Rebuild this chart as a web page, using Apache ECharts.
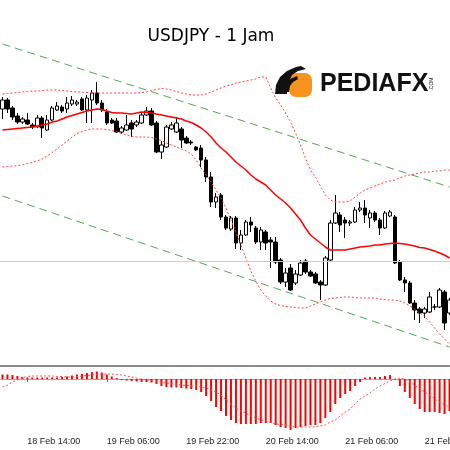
<!DOCTYPE html>
<html><head><meta charset="utf-8">
<script src="https://cdn.jsdelivr.net/npm/echarts@6/dist/echarts.min.js"></script>
<style>html,body{margin:0;padding:0;background:#fff}#c{width:450px;height:450px}</style>
</head><body><div id="c"></div>
<script>
// hourly categories from 18 Feb 09:00
const categories = [];
for (let i = 0; i < 91; i++) {
  const hr = 9 + i, day = 18 + Math.floor(hr / 24), h = hr % 24;
  categories.push(day + ' Feb ' + (h < 10 ? '0' + h : h) + ':00');
}
const tickLabels = ['18 Feb 14:00','19 Feb 06:00','19 Feb 22:00','20 Feb 14:00','21 Feb 06:00','21 Feb 22:00'];

const open = [109.91,110.00,109.92,109.84,109.78,109.80,109.75,109.73,109.82,109.70,
109.80,109.90,109.93,109.91,109.96,109.96,110.01,109.90,110.00,110.07,
109.97,109.88,109.80,109.79,109.68,109.70,109.77,109.75,109.77,109.85,
109.89,109.77,109.48,109.53,109.71,109.68,109.71,109.62,109.58,109.53,
109.52,109.40,109.23,108.98,109.05,108.83,108.71,108.82,108.57,108.65,
108.78,108.72,108.58,108.68,108.60,108.58,108.40,108.18,108.32,108.17,
108.25,108.39,108.28,108.26,108.18,108.15,108.40,108.77,108.85,108.80,
108.77,108.78,108.90,108.92,108.82,108.87,108.80,108.72,108.84,108.83,
108.38,108.20,108.17,107.97,107.91,107.87,107.88,107.93,107.93,108.08,
107.87];
const close = [110.00,109.91,109.83,109.78,109.81,109.76,109.73,109.82,109.72,109.80,
109.92,109.94,109.89,109.97,110.00,109.98,109.90,110.02,110.07,109.97,
109.90,109.77,109.77,109.68,109.72,109.75,109.71,109.78,109.85,109.89,
109.75,109.48,109.55,109.73,109.75,109.77,109.60,109.57,109.57,109.50,
109.40,109.23,108.98,109.03,108.83,108.72,108.82,108.57,108.65,108.78,
108.75,108.58,108.70,108.57,108.58,108.38,108.18,108.27,108.10,108.26,
108.37,108.28,108.24,108.17,108.15,108.42,108.77,108.87,108.75,108.77,
108.78,108.90,108.92,108.85,108.87,108.80,108.72,108.87,108.88,108.37,
108.20,108.17,107.97,107.90,107.87,107.91,108.03,107.93,108.10,107.77,
108.00];
const low = [109.81,109.87,109.80,109.76,109.76,109.75,109.71,109.72,109.62,109.69,
109.79,109.89,109.87,109.87,109.94,109.94,109.89,109.77,109.77,109.95,
109.88,109.75,109.76,109.67,109.66,109.69,109.63,109.73,109.76,109.84,
109.74,109.47,109.41,109.52,109.70,109.67,109.52,109.56,109.55,109.49,
109.33,109.18,108.93,108.92,108.80,108.70,108.69,108.51,108.50,108.64,
108.68,108.56,108.50,108.50,108.32,108.36,108.16,108.13,108.09,108.15,
108.24,108.26,108.23,108.16,108.00,108.14,108.39,108.76,108.68,108.62,
108.74,108.77,108.88,108.77,108.72,108.78,108.65,108.71,108.83,108.36,
108.19,108.08,107.96,107.80,107.77,107.82,107.87,107.90,107.92,107.70,
107.85];
const high = [110.03,110.02,109.94,109.87,109.83,109.87,109.77,109.85,109.84,109.85,
109.94,109.98,109.95,110.03,110.04,110.00,110.03,110.05,110.10,110.18,
110.00,109.91,109.82,109.82,109.74,109.85,109.80,109.80,109.87,109.93,
109.92,109.79,109.59,109.75,109.78,109.83,109.73,109.64,109.60,109.54,
109.55,109.43,109.28,109.07,109.07,108.85,108.84,108.84,108.70,108.80,
108.83,108.74,108.73,108.70,108.63,108.63,108.42,108.32,108.36,108.30,
108.40,108.41,108.30,108.28,108.20,108.44,108.80,109.05,108.88,108.83,
108.80,108.93,108.98,109.00,108.90,108.89,108.82,108.89,108.90,108.85,
108.40,108.23,108.19,108.00,107.93,107.93,108.08,107.96,108.12,108.10,
108.02];

const bbMid = [109.70,109.705,109.71,109.715,109.72,109.725,109.73,109.74,109.75,109.76,
109.78,109.79,109.81,109.83,109.845,109.86,109.875,109.89,109.90,109.91,
109.905,109.89,109.875,109.87,109.87,109.865,109.86,109.87,109.88,109.875,
109.87,109.86,109.85,109.84,109.83,109.82,109.81,109.79,109.775,109.75,
109.72,109.68,109.63,109.57,109.52,109.48,109.43,109.38,109.34,109.30,
109.25,109.21,109.18,109.15,109.10,109.05,109.01,108.97,108.92,108.86,
108.80,108.72,108.65,108.61,108.57,108.53,108.50,108.50,108.50,108.50,
108.51,108.52,108.53,108.535,108.54,108.55,108.55,108.56,108.565,108.57,
108.565,108.56,108.55,108.54,108.525,108.52,108.505,108.49,108.47,108.45,
108.42];
const bbUpper = [110.06,110.065,110.07,110.075,110.08,110.085,110.09,110.09,110.095,110.10,
110.10,110.10,110.095,110.09,110.085,110.08,110.08,110.075,110.07,110.07,
110.07,110.07,110.07,110.07,110.07,110.07,110.07,110.07,110.075,110.08,
110.095,110.105,110.115,110.11,110.10,110.085,110.07,110.06,110.05,110.05,
110.05,110.06,110.08,110.10,110.12,110.14,110.15,110.17,110.18,110.19,
110.20,110.21,110.23,110.23,110.12,110.02,109.95,109.87,109.78,109.67,
109.55,109.42,109.30,109.23,109.14,109.05,109.00,108.98,108.98,108.98,
108.99,109.03,109.07,109.10,109.12,109.14,109.16,109.18,109.19,109.20,
109.22,109.24,109.25,109.26,109.27,109.28,109.28,109.29,109.29,109.30,
109.30];
const bbLower = [109.33,109.335,109.34,109.345,109.35,109.365,109.375,109.39,109.41,109.44,
109.475,109.51,109.55,109.59,109.63,109.665,109.685,109.70,109.71,109.71,
109.71,109.705,109.695,109.68,109.665,109.65,109.635,109.63,109.63,109.63,
109.625,109.61,109.595,109.57,109.55,109.53,109.51,109.49,109.46,109.40,
109.32,109.25,109.18,109.10,109.02,108.92,108.80,108.68,108.55,108.42,
108.29,108.19,108.10,108.04,107.99,107.96,107.945,107.935,107.93,107.925,
107.92,107.92,107.94,107.96,107.98,108.00,108.015,108.02,108.025,108.03,
108.03,108.025,108.02,108.02,108.02,108.02,108.01,108.005,108.00,108.00,
107.99,107.97,107.94,107.91,107.87,107.84,107.78,107.72,107.66,107.61,
107.56];

const macdHist = [0.045,0.045,0.04,0.03,0.02,0.015,0.015,0.015,0.015,0.015,
0.015,0.015,0.02,0.025,0.035,0.045,0.05,0.06,0.07,0.075,
0.065,0.045,0.025,0.01,-0.01,-0.015,-0.02,-0.025,-0.03,-0.03,
-0.035,-0.05,-0.07,-0.08,-0.085,-0.085,-0.09,-0.095,-0.10,-0.11,
-0.13,-0.17,-0.22,-0.28,-0.32,-0.37,-0.41,-0.44,-0.45,-0.45,
-0.45,-0.45,-0.44,-0.44,-0.44,-0.46,-0.48,-0.49,-0.51,-0.49,
-0.48,-0.47,-0.46,-0.46,-0.44,-0.39,-0.33,-0.25,-0.19,-0.15,
-0.12,-0.07,-0.03,0.015,0.02,0.02,0.02,0.03,0.04,-0.01,
-0.07,-0.13,-0.19,-0.25,-0.30,-0.33,-0.33,-0.33,-0.34,-0.35,
-0.32];
const macdSignal = [-0.08,-0.06,-0.03,-0.01,0.015,0.025,0.03,0.03,0.03,0.03,
0.03,0.025,0.025,0.02,0.02,0.025,0.03,0.035,0.04,0.045,
0.05,0.05,0.05,0.045,0.04,0.03,0.02,0.01,0,-0.01,
-0.015,-0.025,-0.03,-0.04,-0.045,-0.05,-0.06,-0.065,-0.07,-0.07,
-0.08,-0.09,-0.11,-0.13,-0.16,-0.21,-0.25,-0.29,-0.32,-0.34,
-0.37,-0.39,-0.41,-0.42,-0.435,-0.45,-0.455,-0.46,-0.47,-0.48,
-0.48,-0.48,-0.48,-0.48,-0.47,-0.46,-0.43,-0.41,-0.37,-0.33,
-0.30,-0.25,-0.20,-0.17,-0.14,-0.10,-0.07,-0.045,-0.02,0,
0.01,0,-0.03,-0.06,-0.10,-0.13,-0.16,-0.20,-0.23,-0.26,
-0.28];

// trend channel end values (first and last candle) and horizontal level
const trendUpper = [110.56, 109.13];
const trendLower = [109.04, 107.53];
const levelLine = [108.39];

const N = categories.length;
const candleData = open.map((o, i) => [o, close[i], low[i], high[i]]);
function endPoints(pair) {
  const d = new Array(N).fill(null);
  d[0] = pair[0]; d[N - 1] = pair[1];
  return d;
}
const isTick = (idx, val) => tickLabels.indexOf(val !== undefined ? val : categories[idx]) >= 0;

const chart = echarts.init(document.getElementById('c'), null, {renderer: 'canvas'});
chart.setOption({
  animation: false,
  backgroundColor: '#ffffff',
  grid: [
    {left: 0, right: -2, top: 0, height: 366, outerBoundsMode: 'none', containLabel: false},
    {left: 0, right: -2, top: 367, height: 66, outerBoundsMode: 'none', containLabel: false}
  ],
  xAxis: [
    {type: 'category', gridIndex: 0, data: categories, boundaryGap: true,
     axisLine: {show: true, lineStyle: {color: '#8c8c8c', width: 2}},
     axisTick: {show: false}, axisLabel: {show: false}, splitLine: {show: false}},
    {type: 'category', gridIndex: 1, data: categories, boundaryGap: true,
     axisLine: {show: true, lineStyle: {color: '#a8a8a8', width: 1}},
     axisTick: {show: true, alignWithLabel: true, length: 3, interval: isTick, lineStyle: {color: '#666'}},
     axisLabel: {show: true, interval: isTick, align: 'left', margin: 4,
       fontFamily: 'Liberation Sans', fontSize: 9, color: '#222', hideOverlap: false},
     splitLine: {show: false}}
  ],
  yAxis: [
    {type: 'value', gridIndex: 0, min: 107.34, max: 111.00, show: false, splitLine: {show: false}},
    {type: 'value', gridIndex: 1, min: -0.54, max: 0.12, show: false, splitLine: {show: false}}
  ],
  series: [
    {type: 'line', name: 'trendUpper', xAxisIndex: 0, yAxisIndex: 0, data: endPoints(trendUpper),
     connectNulls: true, showSymbol: false, symbol: 'none', z: 1,
     lineStyle: {color: '#52a852', width: 1, type: [8, 5]},
     markLine: {silent: true, symbol: 'none', label: {show: false},
       lineStyle: {color: '#cfcfcf', width: 1, type: 'solid'},
       data: levelLine.map(v => ({yAxis: v}))}},
    {type: 'line', name: 'trendLower', xAxisIndex: 0, yAxisIndex: 0, data: endPoints(trendLower),
     connectNulls: true, showSymbol: false, symbol: 'none', z: 1,
     lineStyle: {color: '#52a852', width: 1, type: [8, 5]}},
    {type: 'candlestick', name: 'USDJPY', xAxisIndex: 0, yAxisIndex: 0, data: candleData,
     barWidth: 4, z: 3,
     itemStyle: {color: '#ffffff', color0: '#000000', borderColor: '#000000', borderColor0: '#000000', borderWidth: 1}},
    {type: 'line', name: 'bbMid', xAxisIndex: 0, yAxisIndex: 0, data: bbMid, showSymbol: false, symbol: 'none', z: 4,
     lineStyle: {color: '#ff0000', width: 1.5}},
    {type: 'line', name: 'bbUpper', xAxisIndex: 0, yAxisIndex: 0, data: bbUpper, showSymbol: false, symbol: 'none', z: 4,
     lineStyle: {color: '#ff4040', width: 1, type: [2, 2]}},
    {type: 'line', name: 'bbLower', xAxisIndex: 0, yAxisIndex: 0, data: bbLower, showSymbol: false, symbol: 'none', z: 4,
     lineStyle: {color: '#ff4040', width: 1, type: [2, 2]}},
    {type: 'bar', name: 'macd', xAxisIndex: 1, yAxisIndex: 1, data: macdHist, barWidth: 2,
     itemStyle: {color: '#ff0000'}},
    {type: 'line', name: 'signal', xAxisIndex: 1, yAxisIndex: 1, data: macdSignal, showSymbol: false, symbol: 'none', z: 4,
     lineStyle: {color: '#ff5050', width: 1, type: [2, 2]}}
  ],
  graphic: [
    {type: 'text', x: 211, y: 37, z: 10,
     style: {text: 'USDJPY - 1 Jam', fill: '#000', font: '17px "DejaVu Sans"', align: 'center', verticalAlign: 'middle'}},
    {type: 'rect', z: 10, shape: {x: 289, y: 73, width: 23, height: 24, r: 7}, style: {fill: '#f7941d'}},
    {type: 'polygon', z: 11, shape: {points: [[275,94],[276,85],[280,77],[287,71],[296,67],[301,66],[306,69],[298,71],[292,75],[289,81],[287,88],[287,94]]}, style: {fill: '#111'}},
    {type: 'polygon', z: 11, shape: {points: [[283,92],[285,85],[290,79],[297,76],[298,79],[293,82],[290,86],[289,92]]}, style: {fill: '#111'}},
    {type: 'text', x: 320, y: 84, z: 10,
     style: {text: 'PEDIAFX', fill: '#111', font: 'bold 25px "Liberation Sans"', align: 'left', verticalAlign: 'middle'}},
    {type: 'text', x: 432, y: 84, z: 10, rotation: Math.PI / 2,
     style: {text: '.COM', fill: '#111', font: '5px "Liberation Sans"', align: 'center', verticalAlign: 'middle'}}
  ]
});
</script>
</body></html>
